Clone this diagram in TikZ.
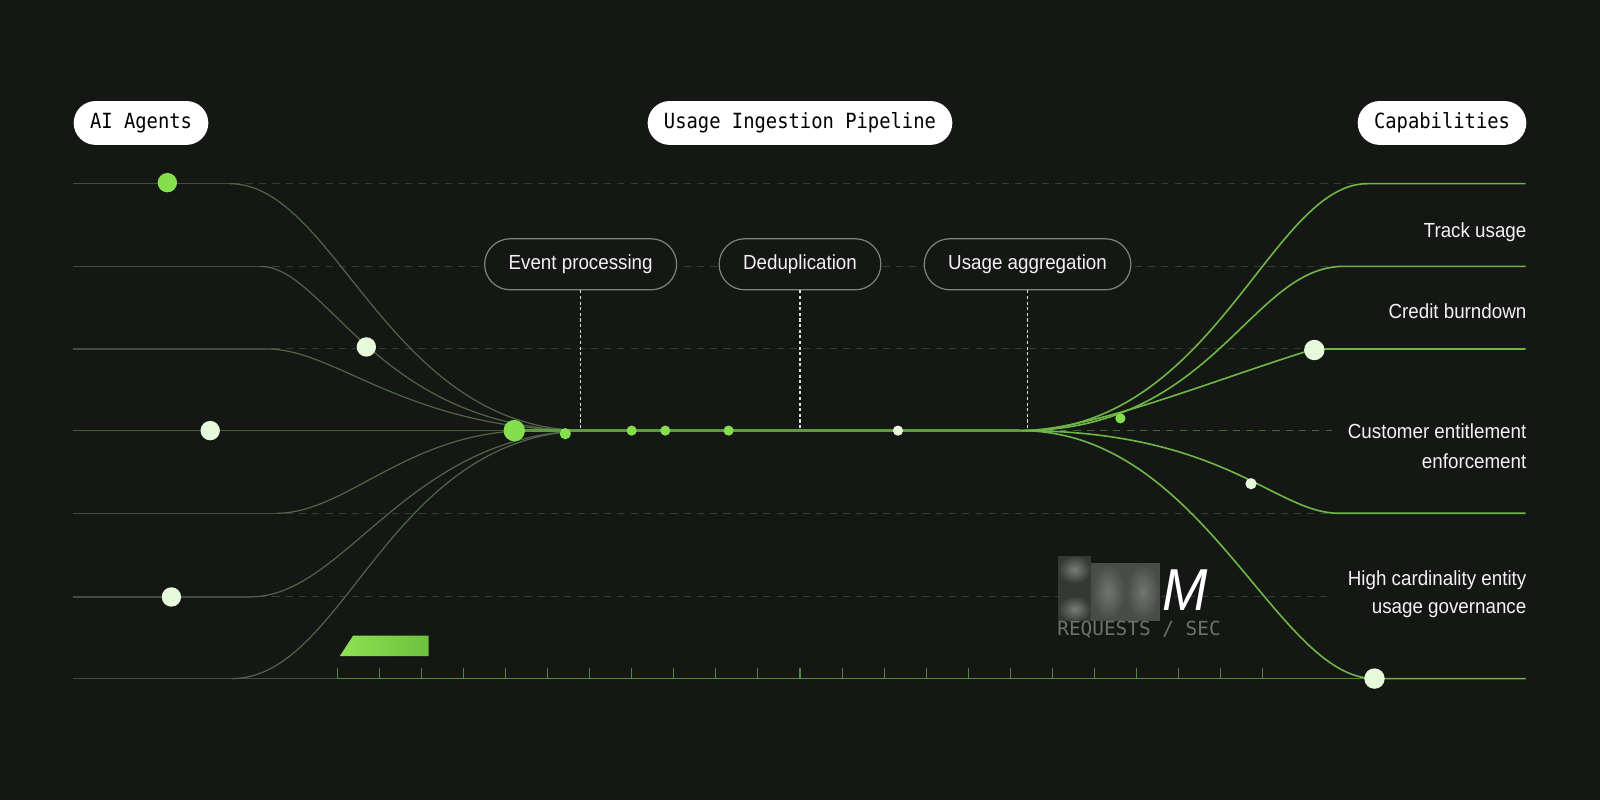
\documentclass[tikz,border=0pt]{standalone}
\usepackage{fontspec}
\newfontfamily\monof[FakeStretch=0.9]{DejaVu Sans Mono}
\newfontfamily\monoplain{DejaVu Sans Mono}
\newfontfamily\sansf[FakeStretch=0.92]{Liberation Sans}
\usetikzlibrary{shadings}
\definecolor{bg}{HTML}{141714}
\definecolor{dashc}{HTML}{363B36}
\definecolor{dashgreen}{HTML}{3D6A2D}
\definecolor{rowgray}{HTML}{454945}
\definecolor{leftcurve}{HTML}{506447}
\definecolor{dimgreen}{HTML}{3E5E30}
\definecolor{maingreen}{HTML}{5C9C3A}
\definecolor{rightgreen}{HTML}{6DB544}
\definecolor{dotgreen}{HTML}{84DE4E}
\definecolor{dotpale}{HTML}{E6FADB}
\definecolor{pillstroke}{HTML}{7E817E}
\definecolor{txt}{HTML}{F2F2F2}
\definecolor{tickgreen}{HTML}{4E8A35}
\definecolor{reqgray}{HTML}{6E716E}
\definecolor{blobbase}{HTML}{363836}
\definecolor{blobmid}{HTML}{4A4C4A}
\definecolor{blobhi}{HTML}{7A7C7A}
\definecolor{barL}{HTML}{8EE152}
\definecolor{barR}{HTML}{6CC23C}
\begin{document}
\begin{tikzpicture}[x=1pt,y=-1pt,
  rowdash/.style={draw=dashc,line width=1pt,dash pattern=on 7pt off 6pt},
  rowline/.style={draw=rowgray,line width=1.2pt},
  lcurve/.style={draw=leftcurve,line width=1.2pt},
  rcurve/.style={draw=rightgreen,line width=1.6pt},
  gdot/.style={circle,fill=dotgreen,inner sep=0pt,minimum size=#1},
  pdot/.style={circle,fill=dotpale,inner sep=0pt,minimum size=#1},
  toppill/.style={fill=white,rounded corners=21.5pt,minimum height=43pt,inner xsep=16pt,inner ysep=0pt,font=\monof\fontsize{20.5}{24}\selectfont,text=black},
  stagepill/.style={fill=bg,draw=pillstroke,line width=1.2pt,rounded corners=25pt,minimum height=50pt,inner xsep=23.5pt,inner ysep=0pt,font=\sansf\fontsize{20}{24}\selectfont,text=txt},
  captext/.style={anchor=east,inner sep=0pt,font=\sansf\fontsize{20}{24}\selectfont,text=txt},
  vdot/.style={draw=white!88!black,line width=1.2pt,dash pattern=on 3pt off 2.5pt},
]
\fill[bg] (0,0) rectangle (1568,784);
\useasboundingbox (0,0) rectangle (1568,784);

% row coordinates
\coordinate (L1) at (72,180);
\coordinate (L2) at (72,261);
\coordinate (L3) at (72,342);
\coordinate (L4) at (72,422);
\coordinate (L5) at (72,503);
\coordinate (L6) at (72,585);
\coordinate (L7) at (72,665);
\coordinate (A0) at (225,180);
\coordinate (B0) at (255,261);
\coordinate (C0) at (262,342);
\coordinate (D0) at (271,503);
\coordinate (E0) at (245,585);
\coordinate (F0) at (227,665);
\coordinate (M0) at (520,422);
\coordinate (M1) at (575,422);
\coordinate (M2) at (580,422);
\coordinate (RC) at (1000,422);
\coordinate (R1a) at (1340,180);
\coordinate (R2a) at (1317,261);
\coordinate (R3a) at (1288,342);
\coordinate (R4a) at (1312,503);
\coordinate (R5a) at (1347,665);
\coordinate (R1b) at (1495,180);
\coordinate (R2b) at (1495,261);
\coordinate (R3b) at (1495,342);
\coordinate (R4b) at (1495,503);
\coordinate (R5b) at (1495,665);
\coordinate (T0) at (330,665);
\coordinate (X4) at (1305,422);

% dashed guide rows
\draw[rowdash] (L1) -- (R1a);
\draw[rowdash] (L2) -- (R2a);
\draw[rowdash] (L3) -- (R3a);
\draw[rowdash] (L4) -- (RC);
\draw[rowdash,draw=dashgreen] (RC) -- (X4);
\draw[rowdash] (L5) -- (R4a);
\draw[rowdash] (L6) -- (1300,585);

% left solid rows
\draw[rowline] (L1) -- (A0);
\draw[rowline] (L2) -- (B0);
\draw[rowline] (L3) -- (C0);
\draw[rowline] (L5) -- (D0);
\draw[rowline] (L6) -- (E0);
\draw[rowline] (L7) -- (T0);
\draw[draw=dimgreen,line width=1.6pt] (L4) -- (M0);

% bottom axis with ticks
\draw[draw=tickgreen,line width=1.5pt] (T0) -- (R5b);
\foreach \i in {0,...,22} {
  \draw[draw=tickgreen,line width=1pt] ({331+\i*41.18},655) -- ({331+\i*41.18},665);
}

% left curves
\draw[lcurve] (A0) .. controls (330,180) and (380,422) .. (M1);
\draw[lcurve] (B0) .. controls (320,261) and (370,422) .. (M1);
\draw[lcurve] (C0) .. controls (330,342) and (400,422) .. (M1);
\draw[lcurve] (D0) .. controls (340,503) and (400,422) .. (M0);
\draw[lcurve] (E0) .. controls (340,585) and (400,422) .. (M2);
\draw[lcurve] (F0) .. controls (340,665) and (380,422) .. (M2);

% main pipeline line
\draw[draw=maingreen,line width=2.5pt] (504,422) -- (RC);

% right curves
\draw[rcurve] (RC) .. controls (1190,422) and (1245,180) .. (R1a) -- (R1b);
\draw[rcurve] (RC) .. controls (1190,422) and (1225,261) .. (R2a) -- (R2b);
\draw[rcurve] (RC) .. controls (1070,422) and (1190,372) .. (R3a) -- (R3b);
\draw[rcurve] (RC) .. controls (1200,422) and (1250,503) .. (R4a) -- (R4b);
\draw[rcurve] (RC) .. controls (1180,422) and (1250,665) .. (R5a) -- (R5b);

% green bar
\shade[left color=barL,right color=barR] (333,643) -- (346,623) -- (420,623) -- (420,643) -- cycle;

% blurred counter
\begin{scope}
  \clip (1037,545) rectangle (1069,609);
  \fill[blobbase] (1037,545) rectangle (1069,609);
  \shade[inner color=blobhi,outer color=blobbase] (1053,558) ellipse (16 and 14);
  \shade[inner color=blobhi,outer color=blobbase] (1053,597) ellipse (16 and 13);
\end{scope}
\begin{scope}
  \clip (1069,552) rectangle (1137,609);
  \fill[blobmid] (1069,552) rectangle (1137,609);
  \shade[inner color=blobhi!85!blobmid,outer color=blobmid] (1086,580) ellipse (16 and 27);
  \shade[inner color=blobhi!85!blobmid,outer color=blobmid] (1120,580) ellipse (16 and 27);
\end{scope}
\node[inner sep=0pt,text=white,font=\sansf\itshape\fontsize{58}{60}\selectfont] (mtxt) at (1161,578) {M};
\node[anchor=west,inner sep=0pt,text=reqgray,font=\monoplain\fontsize{19}{22}\selectfont] (req) at (1036,617) {REQUESTS / SEC};

% stage pills
\node[stagepill] (ep) at (569,259) {Event processing};
\node[stagepill] (dd) at (784,259) {Deduplication};
\node[stagepill] (ua) at (1007,259) {Usage aggregation};
\draw[vdot] (ep.south) -- (ep.south |- RC);
\draw[vdot] (dd.south) -- (dd.south |- RC);
\draw[vdot] (ua.south) -- (ua.south |- RC);

% top pills
\node[toppill,anchor=west] (agents) at (72,120.5) {AI Agents};
\node[toppill] (pipe) at (784,120.5) {Usage Ingestion Pipeline};
\node[toppill,anchor=east] (caps) at (1496,120.5) {Capabilities};

% dots
\node[gdot=19pt] (d1) at (164,179) {};
\node[pdot=19pt] (d2) at (359,340) {};
\node[pdot=19pt] (d3) at (206,422) {};
\node[pdot=19pt] (d4) at (168,585) {};
\node[gdot=21pt] (d5) at (504,422) {};
\node[gdot=11pt] (d6) at (554,425) {};
\node[gdot=10pt] (d7) at (619,422) {};
\node[gdot=10pt] (d8) at (652,422) {};
\node[gdot=10pt] (d9) at (714,422) {};
\node[pdot=10pt] (d10) at (880,422) {};
\node[gdot=10pt] (d11) at (1098,410) {};
\node[pdot=20pt] (d12) at (1288,343) {};
\node[pdot=11pt] (d13) at (1226,474) {};
\node[pdot=20pt] (d14) at (1347,665) {};

% capability labels
\node[captext] (c1) at (1496,228) {Track usage};
\node[captext] (c2) at (1496,305) {Credit burndown};
\node[captext] (c3) at (1496,423) {Customer entitlement};
\node[captext] (c3b) at (1496,452) {enforcement};
\node[captext] (c4) at (1496,569) {High cardinality entity};
\node[captext] (c4b) at (1496,598) {usage governance};
\end{tikzpicture}
\end{document}
